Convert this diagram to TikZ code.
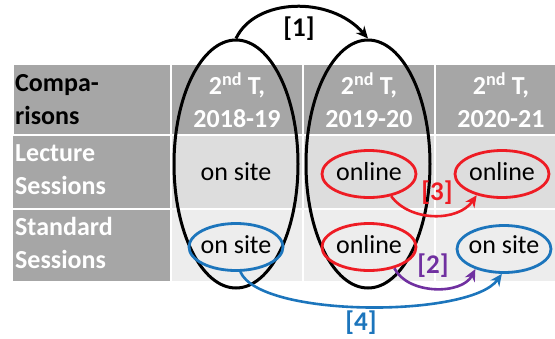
\documentclass[tikz,border=0pt]{standalone}
\usepackage{fontspec}
\setmainfont{Carlito}
\usetikzlibrary{shapes.geometric,arrows.meta}
\definecolor{hdrgray}{HTML}{A6A6A6}
\definecolor{rowA}{HTML}{DDDDDD}
\definecolor{rowB}{HTML}{EDEDED}
\definecolor{ovred}{HTML}{EE1C24}
\definecolor{ovblue}{HTML}{1C75BC}
\definecolor{ovpurple}{HTML}{7030A0}
\tikzset{
  cellfont/.style={font=\fontsize{26}{33}\selectfont},
  hdrtext/.style={cellfont, font=\fontsize{26}{33}\selectfont\bfseries, text=white, align=center, inner sep=0},
  sidetext/.style={hdrtext, align=left, anchor=west},
  bodytext/.style={cellfont, text=black, inner sep=0},
  bigoval/.style={ellipse, draw=black, line width=3pt, inner sep=0, minimum width=124pt, minimum height=248pt},
  oval/.style={ellipse, draw=#1, line width=2.8pt, inner sep=0, minimum width=94pt, minimum height=47pt},
  tag/.style={font=\fontsize{27}{30}\selectfont\bfseries, text=#1, inner sep=0},
  link/.style={line width=#1, -{Stealth[length=12pt,width=11pt]}},
}
\begin{document}
\begin{tikzpicture}[x=1pt,y=-1pt]
\useasboundingbox (0,0) rectangle (555,338);
\clip (0,0) rectangle (555,338);

% table cells (white gaps between them)
\foreach \xa/\xb in {13/171,171/303,303/435,435/580}{
  \fill[hdrgray] (\xa+1,65) rectangle (\xb-1,134);
}
\fill[hdrgray] (13,136) rectangle (170,208);
\fill[hdrgray] (13,210) rectangle (170,281);
\foreach \xa/\xb in {171/303,303/435,435/580}{
  \fill[rowA] (\xa+1,136) rectangle (\xb-1,208);
  \fill[rowB] (\xa+1,210) rectangle (\xb-1,281);
}

% header row and side column
\node[sidetext, text=black] (hcmp) at (15,100) {Compa-\\risons};
\node[hdrtext] (h1) at (237,100) {2\textsuperscript{nd} T,\\2018-19};
\node[hdrtext] (h2) at (369,100) {2\textsuperscript{nd} T,\\2019-20};
\node[hdrtext] (h3) at (501,100) {2\textsuperscript{nd} T,\\2020-21};
\node[sidetext] (slec) at (15,170) {Lecture\\Sessions};
\node[sidetext] (sstd) at (15,243) {Standard\\Sessions};

% body entries
\node[bodytext] (t21) at (236,172) {on site};
\node[bodytext] (t22) at (369,172) {online};
\node[bodytext] (t23) at (502,172) {online};
\node[bodytext] (t31) at (236,245) {on site};
\node[bodytext] (t32) at (369,245) {online};
\node[bodytext] (t33) at (504,245) {on site};

% column groupings
\node[bigoval] (e1) at (236,164) {};
\node[bigoval] (e2) at (368,164) {};

% highlighted entries
\node[oval=ovred]  (r22) at (369,174) {};
\node[oval=ovred]  (r23) at (502,174) {};
\node[oval=ovred]  (r32) at (369,247) {};
\node[oval=ovblue] (b31) at (236,247) {};
\node[oval=ovblue] (b33) at (504,249) {};

% comparison arrows
\draw[link=3pt, black] (e1.north) .. controls (255,-2) and (330,-5) .. (e2.north);
\draw[link=2.6pt, ovred] (r22.-45) .. controls (410,222) and (458,222) .. (r23.220);
\draw[link=2.6pt, ovpurple] (r32.-40) .. controls (408,295) and (462,295) .. (b33.215);
\draw[link=2.6pt, ovblue] (b31.-80) .. controls (260,318) and (470,318) .. (b33.-95);

% comparison labels
\node[tag=black] (l1) at (299,29) {[1]};
\node[tag=ovred] (l3) at (437,193) {[3]};
\node[tag=ovpurple] (l2) at (433,266) {[2]};
\node[tag=ovblue] (l4) at (361,323) {[4]};
\end{tikzpicture}
\end{document}
